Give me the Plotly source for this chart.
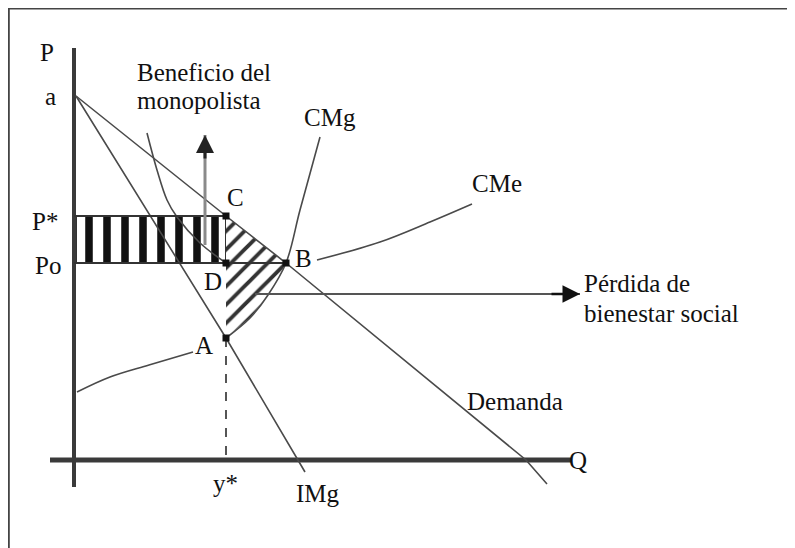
import plotly.graph_objects as go

# ---- data (economic coordinates: Q on x, P on y) ----
demand_q = [0.2, 15.2, 21.2, 45.2, 47.3]
demand_p = [36.4, 24.4, 19.7, 0.0, -2.4]

img_q = [0.2, 15.2, 23.1]
img_p = [36.4, 12.2, -1.2]

cmg_left_q = [0.3, 3.6, 7.5, 11.9]
cmg_left_p = [6.8, 8.3, 9.5, 10.8]
cmg_right_q = [15.2, 17.6, 19.4, 21.2, 22.6, 24.6]
cmg_right_p = [12.2, 14.2, 16.5, 19.7, 25.0, 32.3]

cme_left_q = [7.3, 8.3, 9.3, 10.3, 12.6, 15.2]
cme_left_p = [32.7, 29.0, 26.0, 24.3, 21.7, 19.7]
cme_right_q = [24.3, 30.6, 35.6, 39.8]
cme_right_p = [20.0, 21.8, 23.8, 25.6]

p_star = 24.4
p_o = 19.7
y_star = 15.2
q_b = 21.2
p_a_img = 12.2

# profit rectangle (vertical hatch)
rect_q = [0.2, y_star, y_star, 0.2, 0.2]
rect_p = [p_o, p_o, p_star, p_star, p_o]

# deadweight loss region (diagonal hatch): C -> B -> along CMg -> A -> C
dwl_q = [y_star, q_b, 20.3, 19.4, 17.6, y_star, y_star]
dwl_p = [p_star, p_o, 18.0, 16.5, 14.2, p_a_img, p_star]

pts_q = [y_star, y_star, q_b, y_star]
pts_p = [p_star, p_o, p_o, p_a_img]

# arrows
benef_q = 13.1
benef_p = [21.5, 32.5]
perd_p = 16.6
perd_q = [18.1, 50.6]

# labels
labels = [
    ("P", -2.7, 40.8, "center"),
    ("a", -2.4, 36.4, "center"),
    ("Beneficio del", 6.1, 38.8, "left"),
    ("monopolista", 6.1, 36.0, "left"),
    ("CMg", 25.6, 34.3, "center"),
    ("C", 16.1, 26.3, "center"),
    ("P*", -2.9, 23.9, "center"),
    ("Po", -2.6, 19.5, "center"),
    ("D", 13.9, 17.9, "center"),
    ("B", 22.9, 20.2, "center"),
    ("A", 13.0, 11.5, "center"),
    ("CMe", 42.3, 27.7, "center"),
    ("Pérdida de", 50.8, 17.7, "left"),
    ("bienestar social", 50.8, 14.7, "left"),
    ("Demanda", 44.1, 5.9, "center"),
    ("Q", 50.4, 0.0, "center"),
    ("y*", 15.1, -2.3, "center"),
    ("IMg", 24.4, -3.3, "center"),
]

LINE = "#4a4a4a"
fig = go.Figure()

# hatched areas
fig.add_trace(go.Scatter(x=rect_q, y=rect_p, mode="lines", fill="toself",
                         fillpattern=dict(shape="|", size=18, solidity=0.42,
                                          fgcolor="#111", fgopacity=1, bgcolor="white"),
                         line=dict(color="#333", width=2), hoverinfo="skip"))
fig.add_trace(go.Scatter(x=dwl_q, y=dwl_p, mode="lines", fill="toself",
                         fillpattern=dict(shape="/", size=13, solidity=0.3,
                                          fgcolor="#333", fgopacity=1, bgcolor="white"),
                         line=dict(color="rgba(0,0,0,0)", width=0), hoverinfo="skip"))

# axes
fig.add_trace(go.Scatter(x=[0, 0], y=[41.2, -2.7], mode="lines",
                         line=dict(color="#3a3a3a", width=4)))
fig.add_trace(go.Scatter(x=[-2.4, 49.7], y=[0, 0], mode="lines",
                         line=dict(color="#3a3a3a", width=5)))

# curves
for xs, ys in [(demand_q, demand_p), (img_q, img_p)]:
    fig.add_trace(go.Scatter(x=xs, y=ys, mode="lines", line=dict(color=LINE, width=1.6)))
for xs, ys in [(cmg_left_q, cmg_left_p), (cmg_right_q, cmg_right_p),
               (cme_left_q, cme_left_p), (cme_right_q, cme_right_p)]:
    fig.add_trace(go.Scatter(x=xs, y=ys, mode="lines",
                             line=dict(color=LINE, width=1.6, shape="spline")))

# Po and P* lines
fig.add_trace(go.Scatter(x=[0, q_b], y=[p_o, p_o], mode="lines", line=dict(color="#333", width=2)))
fig.add_trace(go.Scatter(x=[0, y_star], y=[p_star, p_star], mode="lines", line=dict(color="#333", width=2)))

# dashed y*
fig.add_trace(go.Scatter(x=[y_star, y_star], y=[p_a_img, 0], mode="lines",
                         line=dict(color="#555", width=2, dash="dash")))

# arrow shafts
fig.add_trace(go.Scatter(x=[benef_q, benef_q], y=benef_p, mode="lines",
                         line=dict(color="#8a8a8a", width=3)))
fig.add_trace(go.Scatter(x=perd_q, y=[perd_p, perd_p], mode="lines",
                         line=dict(color="#555", width=2)))

# points
fig.add_trace(go.Scatter(x=pts_q, y=pts_p, mode="markers",
                         marker=dict(symbol="square", size=7, color="#111")))

# arrow heads
fig.add_annotation(x=benef_q, y=benef_p[1], ax=benef_q, ay=benef_p[1] - 2.5,
                   xref="x", yref="y", axref="x", ayref="y", showarrow=True,
                   arrowhead=2, arrowsize=1.2, arrowwidth=3, arrowcolor="#222", text="")
fig.add_annotation(x=perd_q[1], y=perd_p, ax=perd_q[1] - 3, ay=perd_p,
                   xref="x", yref="y", axref="x", ayref="y", showarrow=True,
                   arrowhead=2, arrowsize=1.4, arrowwidth=2.5, arrowcolor="#111", text="")

for t, x, y, anc in labels:
    fig.add_annotation(x=x, y=y, text=t, showarrow=False, xanchor=anc, yanchor="middle",
                       font=dict(family="Liberation Serif", size=25, color="#111"))

# frame (left and top edges)
fig.add_shape(type="line", xref="paper", yref="paper", x0=0.001, x1=0.001, y0=0, y1=1,
              line=dict(color="#444", width=2))
fig.add_shape(type="line", xref="paper", yref="paper", x0=0, x1=1, y0=0.999, y1=0.999,
              line=dict(color="#444", width=2))

# page body adds an 8px offset, so the ranges are shifted by 8px (0.8 units)
fig.update_layout(width=795, height=548, autosize=False, showlegend=False,
                  margin=dict(l=0, r=0, t=0, b=0),
                  paper_bgcolor="white", plot_bgcolor="white",
                  xaxis=dict(range=[-6.6, 72.9], visible=False, fixedrange=True),
                  yaxis=dict(range=[-9.6, 45.2], visible=False, fixedrange=True))

fig.write_html("out.html")
